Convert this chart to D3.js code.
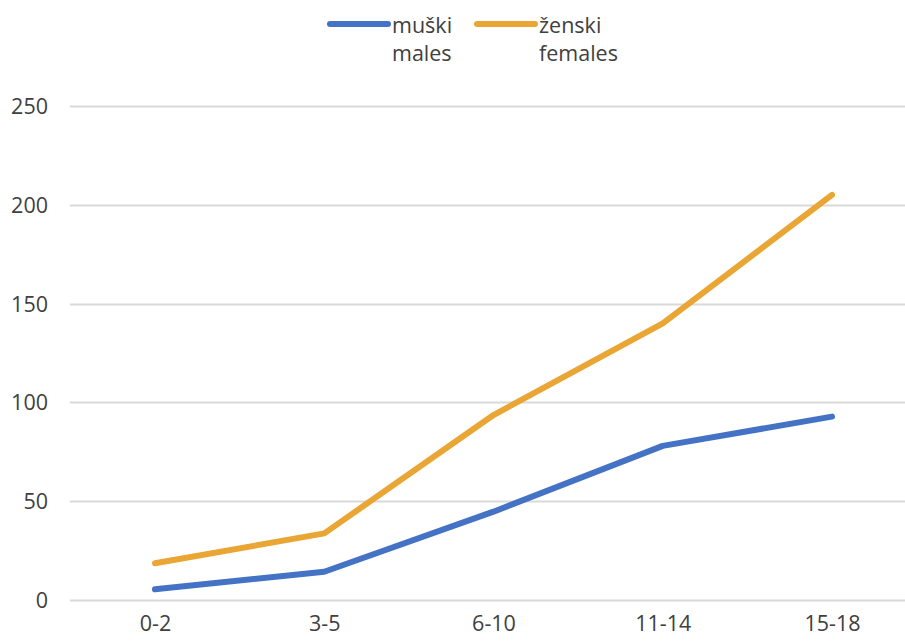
<!DOCTYPE html>
<html>
<head>
<meta charset="utf-8">
<script src="https://cdn.jsdelivr.net/npm/d3@7"></script>
<style>
  html, body { margin: 0; padding: 0; background: #fff; }
  svg { display: block; font-family: "Open Sans", "Noto Sans", sans-serif; }
</style>
</head>
<body>
<svg id="chart" width="905" height="641"></svg>
<script>
const categories = ["0-2", "3-5", "6-10", "11-14", "15-18"];
const males = [5.4, 14.3, 44.7, 78, 92.8];
const females = [18.6, 33.7, 93.6, 140, 205];
const yTicks = [0, 50, 100, 150, 200, 250];
const seriesNames = [["muški", "males"], ["ženski", "females"]];
const colors = ["#4472C4", "#EAA634"];

const svg = d3.select("#chart");
const x = d3.scalePoint().domain(categories).range([155, 832]);
const y = d3.scaleLinear().domain([0, 250]).range([600, 106]);

// gridlines
svg.append("g")
  .selectAll("line").data(yTicks).join("line")
  .attr("x1", 70).attr("x2", 905)
  .attr("y1", d => Math.round(y(d)) + 0.5).attr("y2", d => Math.round(y(d)) + 0.5)
  .attr("stroke", "#d9d9d9").attr("stroke-width", 2);

// y axis labels
const yAxis = d3.axisLeft(y).tickValues(yTicks).tickSize(0).tickPadding(0);
const gy = svg.append("g").attr("transform", "translate(48,0)").call(yAxis);
gy.select(".domain").remove();
gy.selectAll("text").attr("font-size", 21.5).attr("fill", "#404040")
  .attr("font-family", "'Open Sans', sans-serif").attr("dy", "0.35em");

// x axis labels
const xAxis = d3.axisBottom(x).tickSize(0).tickPadding(0);
const gx = svg.append("g").attr("transform", "translate(0,616)").call(xAxis);
gx.select(".domain").remove();
gx.selectAll("text").attr("font-size", 21.5).attr("fill", "#404040")
  .attr("font-family", "'Open Sans', sans-serif").attr("dy", "0.71em");

// lines
const line = d3.line().x((d, i) => x(categories[i])).y(d => y(d));
[males, females].forEach((s, k) => {
  svg.append("path").datum(s)
    .attr("d", line)
    .attr("fill", "none")
    .attr("stroke", colors[k])
    .attr("stroke-width", 6)
    .attr("stroke-linecap", "round")
    .attr("stroke-linejoin", "round");
});

// legend
const legendX = [330, 477];
seriesNames.forEach((names, k) => {
  const g = svg.append("g").attr("transform", `translate(${legendX[k]},0)`);
  g.append("line").attr("x1", 0).attr("x2", 58).attr("y1", 24).attr("y2", 24)
    .attr("stroke", colors[k]).attr("stroke-width", 6).attr("stroke-linecap", "round");
  const t = g.append("text").attr("x", 62).attr("y", 33)
    .attr("font-size", 21.5).attr("fill", "#404040");
  names.forEach((n, j) => {
    t.append("tspan").attr("x", 62).attr("dy", j === 0 ? 0 : 28).text(n);
  });
});
</script>
</body>
</html>
